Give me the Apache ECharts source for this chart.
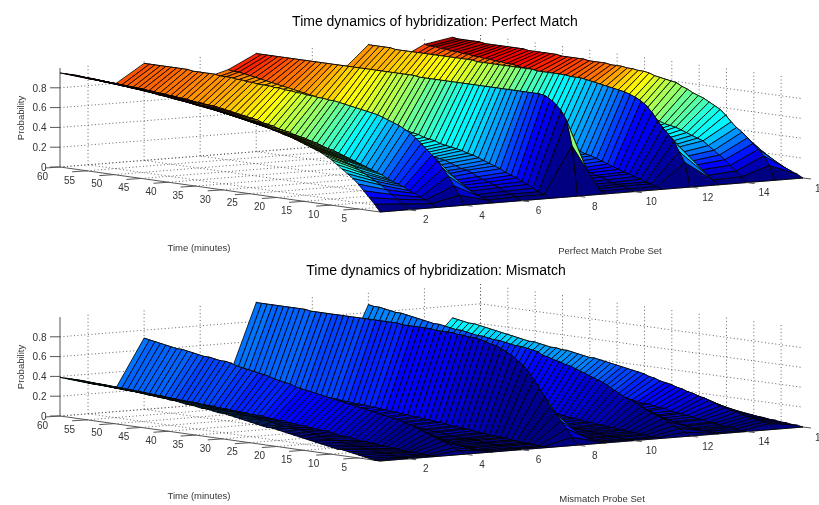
<!DOCTYPE html>
<html><head><meta charset="utf-8">
<style>html,body{margin:0;padding:0;background:#fff;overflow:hidden}#c{width:819px;height:505px}</style>
<script src="https://cdn.jsdelivr.net/npm/echarts@6/dist/echarts.min.js"></script>
</head><body><div id="c"></div>
<script>
// Probability in percent, one list per probe, index 0 = minute 1 ... index 59 = minute 60
const pm1=[0,7,13,19,25,30,34,38,42,46,49,52,54,56,58,60,62,64,65,67,68,70,71,72,73,74,75,76,77,78,79,80,81,82,82,83,84,85,85,86,87,87,88,89,89,90,90,91,91,92,92,93,93,94,94,94,95,95,95,95];
const pm2=[0,5,9,13,17,21,24,27,30,33,36,38,41,43,45,47,49,50,52,54,55,57,58,60,61,62,63,65,66,67,68,69,70,71,72,73,74,75,76,76,78,78,79,80,80,81,82,82,83,83,84,84,85,85,86,86,86,87,87,87];
const pm3=[0,3,6,8,11,13,16,18,20,22,25,27,29,31,33,35,37,39,41,43,44,46,48,49,51,52,53,55,56,57,59,60,61,63,64,65,66,67,68,69,70,71,71,72,72,73,74,74,75,75,76,76,77,77,78,78,78,79,79,80];
const pm4=[0,9,18,27,34,41,46,51,56,61,65,68,71,73,75,77,79,80,81,82,83,84,85,86,87,87,88,88,89,89,90,90,91,91,92,92,93,93,93,94,94,95,95,96,96,96,97,97,97,97,97,98,98,98,98,98,98,98,98,98];
const pm5=[0,2,4,6,9,11,13,14,16,18,20,22,23,25,26,27,29,30,30,31,32,34,34,35,37,38,38,40,41,42,43,44,45,46,46,48,49,50,50,51,53,54,54,56,57,58,58,59,60,61,62,62,63,64,65,66,66,67,67,68];
const pm6=[0,3,5,7,10,12,14,16,18,21,23,24,26,28,30,31,32,33,34,35,36,38,39,40,41,42,43,45,46,47,49,50,50,51,52,54,55,56,57,58,59,60,61,63,64,65,66,67,68,68,69,70,71,72,73,74,75,76,76,77];
const pm7=[0,3,5,8,11,13,16,18,20,23,25,27,29,31,33,34,36,37,38,39,40,42,43,44,46,47,48,50,51,52,54,55,56,57,58,60,61,62,63,64,66,67,68,70,71,72,73,74,75,76,77,78,79,80,81,82,83,84,84,85];
const pm8=[0,50,75,84,90,94,97,98,98,98,98,98,98,98,98,98,98,98,98,98,98,98,98,98,98,98,98,98,98,98,99,99,99,99,99,99,99,99,99,99,99,99,99,99,99,99,99,99,99,99,99,99,99,99,99,99,99,99,99,99];
const pm9=[0,2,3,4,6,7,9,10,11,13,14,16,18,19,20,22,23,24,26,26,28,29,30,31,32,33,34,35,36,38,38,40,41,42,42,43,44,45,46,46,47,48,49,50,50,50,51,52,52,53,54,54,54,55,55,56,57,57,58,58];
const pm10=[0,2,4,5,6,8,10,11,13,14,16,18,20,22,23,24,26,27,29,30,32,32,33,35,36,37,39,40,41,42,43,45,46,47,48,49,50,50,51,52,53,54,55,56,56,57,58,59,59,59,60,60,61,62,62,63,64,64,65,66];
const pm11=[0,2,4,5,7,9,11,12,14,16,18,20,22,24,25,27,29,30,32,33,35,36,37,39,40,41,43,44,45,47,48,50,51,52,53,54,55,56,57,58,59,60,61,62,62,63,64,65,65,66,67,67,68,69,69,70,71,71,72,73];
const pm12=[0,24,34,44,50,56,62,70,76,80,83,85,87,88,89,90,91,92,93,94,95,95,95,96,96,96,96,96,96,97,97,97,97,97,97,97,97,97,97,97,98,98,98,98,98,98,98,98,98,98,98,98,98,98,98,99,99,99,99,99];
const pm13=[0,4,8,13,17,20,24,27,31,32,34,36,37,39,40,41,43,44,46,48,48,50,52,54,55,57,59,60,62,64,65,65,66,67,68,69,70,70,71,71,72,72,73,74,74,75,75,76,76,77,77,77,77,78,78,79,79,80,80,81];
const pm14=[0,5,10,15,20,24,28,32,36,38,40,42,44,46,47,48,50,52,54,56,57,59,61,63,65,67,69,71,73,75,76,77,78,79,80,81,82,82,83,84,85,85,86,87,87,88,88,89,89,90,90,91,91,92,92,93,93,94,94,95];
const pm15=[0,14,23,29,34,39,44,48,53,59,64,67,70,73,75,77,80,82,85,86,87,88,89,91,92,92,93,93,94,94,94,95,95,95,95,96,96,96,96,96,97,97,97,97,97,97,98,98,98,98,98,98,98,98,99,99,99,99,99,100];
const pm16=[0,3,5,7,9,11,13,15,17,19,20,21,22,23,24,25,25,25,25,25,25,25,25,25,25,25,25,25,25,25,25,25,25,25,25,25,25,25,25,25,25,25,25,25,25,25,25,25,25,25,25,25,25,25,25,25,25,25,25,25];
const mm1=[0,0,1,2,3,4,5,6,6,7,8,9,10,11,12,13,14,15,16,17,18,18,19,20,21,22,23,24,25,26,26,27,28,28,29,30,30,31,32,32,33,33,34,34,35,35,36,36,37,37,37,38,38,38,38,39,39,39,39,39];
const mm2=[0,0,0,1,2,2,3,4,4,5,5,6,7,8,8,9,10,11,12,13,14,14,15,15,16,17,18,18,19,20,20,21,22,22,22,23,23,24,25,25,25,26,26,26,27,27,28,28,29,29,29,30,30,30,30,31,31,31,31,31];
const mm3=[0,0,0,0,1,1,1,2,2,3,3,4,4,5,5,6,7,7,8,9,10,10,11,11,12,12,13,13,14,14,15,15,16,16,16,17,17,17,18,18,18,19,19,19,20,20,20,20,21,21,22,22,22,22,23,23,23,23,24,24];
const mm4=[0,3,5,8,10,12,14,16,18,20,22,23,25,26,27,28,29,30,31,32,33,34,35,36,37,38,39,40,41,42,43,44,46,47,48,49,51,52,53,54,55,56,57,59,60,60,61,62,62,63,64,65,66,66,67,68,69,70,71,72];
const mm5=[0,0,0,0,1,1,1,2,2,2,3,3,4,4,5,5,5,6,6,7,8,8,8,8,9,9,10,10,11,11,11,11,12,12,13,13,13,14,14,14,14,14,15,15,15,16,16,16,17,17,17,17,17,17,17,17,18,18,18,18];
const mm6=[0,0,0,1,1,1,2,2,3,3,3,3,4,4,5,6,6,7,7,8,9,9,10,10,10,10,11,11,12,12,13,13,14,14,15,15,15,16,16,17,17,17,17,17,17,18,18,18,19,19,19,19,20,20,20,20,21,21,21,21];
const mm7=[0,0,0,1,1,1,2,2,3,3,4,4,5,5,6,7,7,8,8,9,10,10,11,11,12,12,13,13,14,14,15,15,16,16,17,17,17,18,18,19,19,19,20,20,20,21,21,21,22,22,22,22,23,23,23,23,24,24,24,24];
const mm8=[0,7,15,22,29,35,44,52,60,67,73,77,81,84,87,89,90,92,93,94,94,95,95,96,96,96,96,97,97,97,97,97,97,98,98,98,98,98,98,98,98,98,98,98,98,98,98,98,98,98,99,99,99,99,99,99,99,99,99,99];
const mm9=[0,0,0,0,1,1,1,2,2,3,3,4,4,4,5,5,6,6,7,8,8,8,9,9,10,10,11,11,12,12,12,13,13,13,14,14,15,15,16,16,16,16,17,17,17,18,18,18,18,19,19,19,19,20,20,20,20,20,20,21];
const mm10=[0,0,0,1,1,1,2,2,3,3,4,4,4,5,5,6,7,7,8,9,9,10,10,11,12,12,13,13,13,14,14,14,15,15,16,16,17,17,18,18,18,19,19,19,20,20,21,21,21,21,22,22,22,22,22,23,23,23,23,24];
const mm11=[0,0,0,1,1,2,2,3,3,4,4,5,5,6,6,7,8,8,9,10,10,11,11,12,13,13,14,14,15,15,16,16,17,17,18,18,19,19,20,20,20,21,21,21,22,22,23,23,23,24,24,24,24,25,25,25,25,26,26,26];
const mm12=[0,3,6,8,11,14,16,18,20,23,26,28,30,33,36,39,42,44,46,48,50,52,54,55,57,58,60,61,64,65,66,67,67,68,69,70,70,71,72,72,73,74,75,75,76,77,78,78,79,80,81,82,83,84,84,85,86,87,87,88];
const mm13=[0,0,1,1,2,2,3,3,5,5,6,7,8,8,9,10,10,11,12,12,13,14,14,14,15,16,17,17,18,19,19,20,20,21,21,22,22,23,23,24,24,25,25,26,26,27,27,28,28,29,29,29,30,30,31,31,31,31,31,32];
const mm14=[0,0,1,2,2,3,4,4,6,6,7,8,9,9,10,12,12,13,14,14,15,16,17,17,18,19,20,20,21,22,22,23,24,25,25,26,26,27,27,28,28,29,29,30,31,32,32,33,33,34,34,34,35,35,36,36,37,37,37,38];
const mm15=[0,5,6,7,8,9,10,12,13,15,16,18,20,22,23,25,26,28,29,31,32,33,35,36,38,39,40,41,42,43,44,45,46,47,47,48,49,50,51,51,52,52,53,54,55,55,56,57,58,59,60,61,62,63,64,65,65,66,67,68];
const mm16=[0,1,1,2,2,3,3,4,4,5,5,6,6,7,7,8,8,9,9,10,10,11,11,12,12,13,13,14,14,15,15,16,16,17,17,18,18,19,19,20,20,20,20,20,20,20,20,20,20,20,20,20,20,20,20,20,20,20,20,20];
const perfect=[pm1,pm2,pm3,pm4,pm5,pm6,pm7,pm8,pm9,pm10,pm11,pm12,pm13,pm14,pm15,pm16];
const mismatch=[mm1,mm2,mm3,mm4,mm5,mm6,mm7,mm8,mm9,mm10,mm11,mm12,mm13,mm14,mm15,mm16];
const timeTicks=[5,10,15,20,25,30,35,40,45,50,55,60];
const probeTicks=[2,4,6,8,10,12,14,16];
const probTicks=[0,0.2,0.4,0.6,0.8];
const panels=[
 {title:'Time dynamics of hybridization: Perfect Match',z:perfect,xlabel:'Perfect Match Probe Set'},
 {title:'Time dynamics of hybridization: Mismatch',z:mismatch,xlabel:'Mismatch Probe Set'}
];
// projection of the 3-D box (orthographic view as a bilinear map of the floor)
const C={L:[60,167],N:[380,212],R:[803,178],B:[480.5,134]},ZS=99,DY=[0,249];
function proj(panel,p,t,z){
  const u=(p-1)/15,v=(t-1)/59;
  const a=(1-u)*(1-v),b=u*(1-v),c=(1-u)*v,d=u*v;
  return [a*C.N[0]+b*C.R[0]+c*C.L[0]+d*C.B[0],
          a*C.N[1]+b*C.R[1]+c*C.L[1]+d*C.B[1]+DY[panel]-z*ZS];
}
function jet(v){
  const q=Math.min(63,Math.floor(v*64))/63, k=x=>Math.round(255*Math.max(0,Math.min(1,x)));
  return 'rgb('+k(Math.min(4*q-1.5,-4*q+4.5))+','+k(Math.min(4*q-0.5,-4*q+3.5))+','+k(Math.min(4*q+0.5,-4*q+2.5))+')';
}
// facets back to front
const facets=[];
panels.forEach((P,k)=>{for(let p=14;p>=0;p--)for(let i=58;i>=0;i--)facets.push([k,p,i]);});
// grid and axis segments: [panel,p1,t1,z1,p2,t2,z2]
const grid=[],axisSeg=[];
panels.forEach((P,k)=>{
  timeTicks.forEach(t=>{grid.push([k,1,t,0,16,t,0]);grid.push([k,16,t,0,16,t,1]);});
  probeTicks.forEach(p=>{grid.push([k,p,1,0,p,60,0]);grid.push([k,p,60,0,p,60,1]);});
  probTicks.forEach(z=>{grid.push([k,1,60,z,16,60,z]);grid.push([k,16,60,z,16,1,z]);});
  axisSeg.push([k,1,60,0,1,1,0],[k,1,1,0,16,1,0],[k,1,60,0,1,60,1]);
});
const labels=[];
panels.forEach((P,k)=>{
  timeTicks.forEach(t=>labels.push({k,kind:'t',v:t}));
  probeTicks.forEach(p=>labels.push({k,kind:'p',v:p}));
  probTicks.forEach(z=>labels.push({k,kind:'z',v:z}));
});
const FF='"Liberation Sans",Arial,sans-serif', AX='#333';
const chart=echarts.init(document.getElementById('c'),null,{renderer:'canvas'});
const segItem=(api,d,style)=>{
  const a=api.coord(proj(d[0],d[1],d[2],d[3])),b=api.coord(proj(d[0],d[4],d[5],d[6]));
  return {type:'line',silent:true,shape:{x1:a[0],y1:a[1],x2:b[0],y2:b[1]},style};
};
chart.setOption({
  animation:false,
  backgroundColor:'#fff',
  title:[
   {text:panels[0].title,left:430,top:10,textAlign:'center',textStyle:{fontFamily:FF,fontSize:14,fontWeight:'normal',color:'#000'}},
   {text:panels[1].title,left:431,top:259,textAlign:'center',textStyle:{fontFamily:FF,fontSize:14,fontWeight:'normal',color:'#000'}}
  ],
  grid:{left:0,right:0,top:0,bottom:0},
  xAxis:{type:'value',min:0,max:819,show:false},
  yAxis:{type:'value',min:0,max:505,inverse:true,show:false},
  tooltip:{show:false},
  graphic:[
   {type:'text',x:21,y:118,rotation:Math.PI/2,silent:true,style:{text:'Probability',fill:AX,font:'9.5px '+FF,align:'center',verticalAlign:'middle'}},
   {type:'text',x:21,y:367,rotation:Math.PI/2,silent:true,style:{text:'Probability',fill:AX,font:'9.5px '+FF,align:'center',verticalAlign:'middle'}},
   {type:'text',x:199,y:248,silent:true,style:{text:'Time (minutes)',fill:AX,font:'9.5px '+FF,align:'center',verticalAlign:'middle'}},
   {type:'text',x:199,y:496,silent:true,style:{text:'Time (minutes)',fill:AX,font:'9.5px '+FF,align:'center',verticalAlign:'middle'}},
   {type:'text',x:610,y:251,silent:true,style:{text:panels[0].xlabel,fill:AX,font:'9.5px '+FF,align:'center',verticalAlign:'middle'}},
   {type:'text',x:602,y:499,silent:true,style:{text:panels[1].xlabel,fill:AX,font:'9.5px '+FF,align:'center',verticalAlign:'middle'}}
  ],
  series:[
   {type:'custom',name:'grid',coordinateSystem:'cartesian2d',data:grid,silent:true,progressive:0,clip:false,encode:{x:1,y:2},
    renderItem:(params,api)=>segItem(api,grid[params.dataIndex],{stroke:'#555',lineWidth:0.9,lineDash:[1,2.5],fill:null})},
   {type:'custom',name:'axes',coordinateSystem:'cartesian2d',data:axisSeg,silent:true,progressive:0,clip:false,encode:{x:1,y:2},
    renderItem:(params,api)=>segItem(api,axisSeg[params.dataIndex],{stroke:'#555',lineWidth:1,fill:null})},
   {type:'custom',name:'surface',coordinateSystem:'cartesian2d',data:facets,silent:true,progressive:0,clip:false,encode:{x:1,y:2},
    renderItem:(params,api)=>{
      const [k,p,i]=facets[params.dataIndex],Z=panels[k].z;
      const pts=[[p,i],[p+1,i],[p+1,i+1],[p,i+1]].map(q=>api.coord(proj(k,q[0]+1,q[1]+1,Z[q[0]][q[1]]/100)));
      return {type:'polygon',silent:true,shape:{points:pts},style:{fill:jet(Z[p][i]/100),stroke:'rgba(0,0,0,0.9)',lineWidth:0.9}};
    }},
   {type:'custom',name:'ticks',coordinateSystem:'cartesian2d',data:labels,silent:true,progressive:0,clip:false,encode:{x:1,y:2},
    renderItem:(params,api)=>{
      const L=labels[params.dataIndex],k=L.k;let a,tx,ty,lx,ly,txt,align='center';
      if(L.kind==='t'){a=api.coord(proj(k,1,L.v,0));tx=a[0]-15;ty=a[1]+1;lx=a[0]-(L.v<10?14:17.5);ly=a[1]+10;txt=String(L.v);}
      else if(L.kind==='p'){a=api.coord(proj(k,L.v,1,0));tx=a[0]+8;ty=a[1]+1;lx=a[0]+17.5;ly=a[1]+11;txt=String(L.v);}
      else{a=api.coord(proj(k,1,60,L.v));tx=a[0]-10;ty=a[1];lx=a[0]-13.5;ly=a[1]+1;txt=L.v===0?'0':L.v.toFixed(1);align='right';}
      return {type:'group',silent:true,children:[
        {type:'line',silent:true,shape:{x1:a[0],y1:a[1],x2:tx,y2:ty},style:{stroke:'#555',lineWidth:1}},
        {type:'text',silent:true,x:lx,y:ly,style:{text:txt,fill:AX,font:'10px '+FF,align:align,verticalAlign:'middle'}}
      ]};
    }}
  ]
});
</script></body></html>
